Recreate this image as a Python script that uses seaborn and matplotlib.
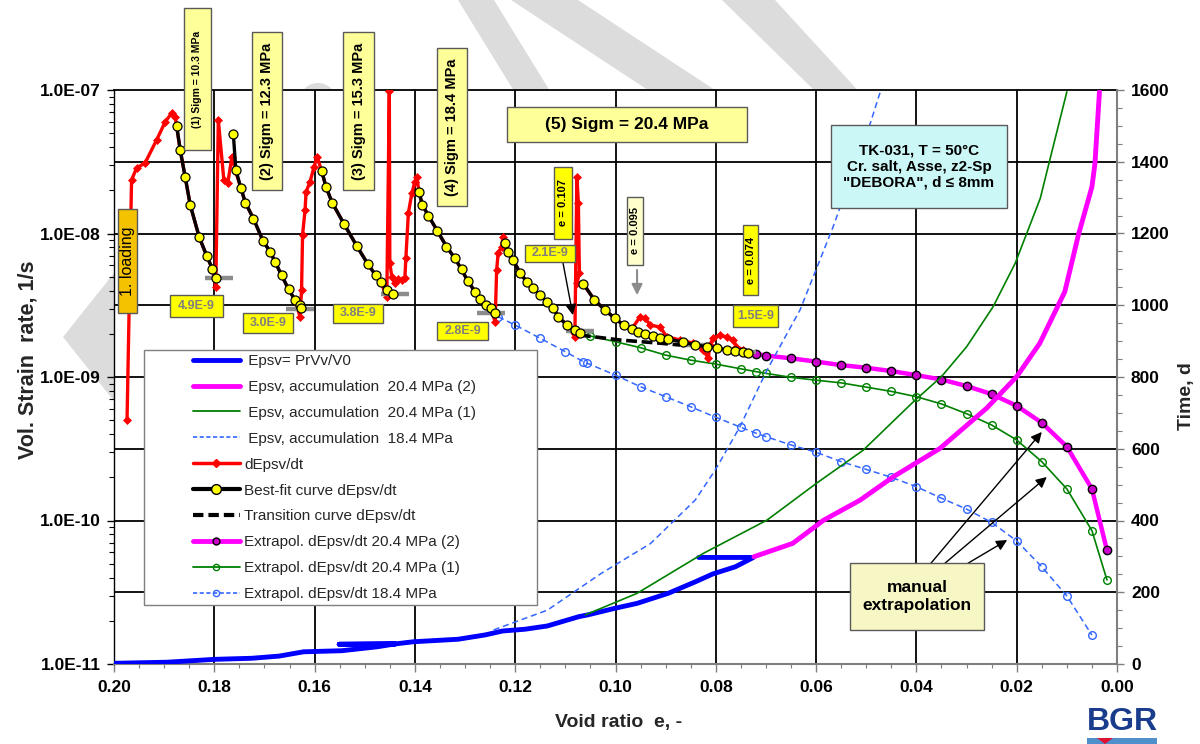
import numpy as np
import pandas as pd
import matplotlib
matplotlib.use("Agg")
import matplotlib.pyplot as plt
import seaborn as sns
from matplotlib.patches import Rectangle, Polygon, Ellipse
from matplotlib.lines import Line2D
from matplotlib.ticker import LogLocator, MultipleLocator, FuncFormatter, NullFormatter

# ---------------- data ----------------
# measured strain rate dEpsv/dt vs void ratio
red_e = [0.1974, 0.1965, 0.1955, 0.1938, 0.1915, 0.1898, 0.1885, 0.1878, 0.1868, 0.1858,
         0.1848, 0.1830, 0.1815, 0.1804, 0.1797, 0.1792, 0.1781, 0.1773, 0.1765, 0.1757,
         0.1747, 0.1738, 0.1722, 0.1703, 0.1688, 0.1679, 0.1666, 0.1652, 0.1639, 0.1629,
         0.1626, 0.1624, 0.1619, 0.1617, 0.1609, 0.1601, 0.1595, 0.1586, 0.1577, 0.1565,
         0.1541, 0.1516, 0.1494, 0.1478, 0.1468, 0.1456, 0.1451, 0.1450, 0.1446, 0.1440,
         0.1433, 0.1426, 0.1420, 0.1418, 0.1413, 0.1406, 0.1400, 0.1396, 0.1392, 0.1385,
         0.1373, 0.1355, 0.1337, 0.1320, 0.1307, 0.1295, 0.1280, 0.1270, 0.1259, 0.1249,
         0.1240, 0.1237, 0.1234, 0.1227, 0.1224, 0.1220, 0.1214, 0.1204, 0.1190, 0.1177,
         0.1164, 0.1151, 0.1137, 0.1124, 0.1114, 0.1097, 0.1081, 0.1077, 0.1074, 0.1072,
         0.1077, 0.1064, 0.1042, 0.1021, 0.1001, 0.0984, 0.0968, 0.0951, 0.0941, 0.0931,
         0.0911, 0.0898, 0.0871, 0.0845, 0.0825, 0.0815, 0.0812, 0.0805, 0.0792, 0.0778,
         0.0765, 0.0759, 0.0745, 0.0732]
red_r = [5.0e-10, 2.36e-8, 2.86e-8, 3.1e-8, 4.49e-8, 5.98e-8, 6.92e-8, 6.49e-8, 3.82e-8, 2.47e-8,
         1.58e-8, 9.4e-9, 6.97e-9, 5.69e-9, 4.24e-9, 6.18e-8, 2.36e-8, 2.26e-8, 3.41e-8, 2.69e-8,
         2.07e-8, 1.64e-8, 1.27e-8, 8.9e-9, 7.4e-9, 6.36e-9, 5.14e-9, 4.09e-9, 3.44e-9, 2.63e-9,
         4.04e-9, 9.8e-9, 1.46e-8, 1.95e-8, 2.30e-8, 2.92e-8, 3.43e-8, 2.73e-8, 2.10e-8, 1.64e-8,
         1.16e-8, 8.2e-9, 6.13e-9, 5.11e-9, 4.59e-9, 3.63e-9, 9.9e-8, 6.19e-9, 5.0e-9, 4.52e-9,
         4.8e-9, 4.74e-9, 4.9e-9, 6.75e-9, 1.39e-8, 1.91e-8, 2.30e-8, 2.49e-8, 1.95e-8, 1.58e-8,
         1.33e-8, 1.04e-8, 8.1e-9, 6.7e-9, 5.62e-9, 4.69e-9, 3.93e-9, 3.48e-9, 3.17e-9, 3.03e-9,
         2.43e-9, 5.57e-9, 7.28e-9, 8.1e-9, 9.5e-9, 8.55e-9, 7.47e-9, 6.53e-9, 5.28e-9, 4.62e-9,
         4.15e-9, 3.73e-9, 3.35e-9, 3.01e-9, 2.63e-9, 2.30e-9, 1.91e-9, 2.49e-8, 1.62e-8, 5.28e-9,
         4.50e-9, 4.45e-9, 3.44e-9, 2.93e-9, 2.56e-9, 2.30e-9, 2.15e-9, 2.63e-9, 2.58e-9, 2.30e-9,
         2.23e-9, 1.91e-9, 1.81e-9, 1.72e-9, 1.54e-9, 1.35e-9, 1.67e-9, 1.86e-9, 1.96e-9, 1.90e-9,
         1.81e-9, 1.63e-9, 1.54e-9, 1.47e-9]

# best-fit curves (one segment per load stage)
fit_e = [0.1875, 0.1868, 0.1858, 0.1848, 0.1830, 0.1815, 0.1804, 0.1797,
         0.1762, 0.1757, 0.1747, 0.1738, 0.1722, 0.1703, 0.1688, 0.1679, 0.1666, 0.1652, 0.1639, 0.1630, 0.1627,
         0.1586, 0.1577, 0.1565, 0.1541, 0.1516, 0.1494, 0.1478, 0.1468, 0.1456, 0.1444,
         0.1392, 0.1385, 0.1373, 0.1355, 0.1337, 0.1320, 0.1307, 0.1295, 0.1280, 0.1270, 0.1259, 0.1249, 0.1240,
         0.1220, 0.1214, 0.1204, 0.1190, 0.1177, 0.1164, 0.1151, 0.1137, 0.1124, 0.1114, 0.1097, 0.1081, 0.1071,
         0.1064, 0.1042, 0.1021, 0.1001, 0.0984, 0.0968, 0.0956, 0.0941, 0.0926, 0.0911, 0.0895, 0.0865,
         0.0841, 0.0818, 0.0798, 0.0778, 0.0761, 0.0745, 0.0735]
fit_r = [5.61e-8, 3.82e-8, 2.47e-8, 1.58e-8, 9.42e-9, 6.97e-9, 5.69e-9, 4.88e-9,
         4.91e-8, 2.77e-8, 2.07e-8, 1.64e-8, 1.27e-8, 8.9e-9, 7.4e-9, 6.36e-9, 5.14e-9, 4.09e-9, 3.44e-9, 3.18e-9, 3.01e-9,
         2.73e-8, 2.10e-8, 1.64e-8, 1.16e-8, 8.2e-9, 6.13e-9, 5.11e-9, 4.59e-9, 4.04e-9, 3.77e-9,
         1.95e-8, 1.58e-8, 1.33e-8, 1.04e-8, 8.1e-9, 6.7e-9, 5.62e-9, 4.69e-9, 3.93e-9, 3.48e-9, 3.17e-9, 3.03e-9, 2.78e-9,
         8.55e-9, 7.47e-9, 6.53e-9, 5.28e-9, 4.62e-9, 4.15e-9, 3.73e-9, 3.35e-9, 3.01e-9, 2.63e-9, 2.30e-9, 2.13e-9, 2.04e-9,
         4.45e-9, 3.44e-9, 2.93e-9, 2.56e-9, 2.30e-9, 2.15e-9, 2.07e-9, 2.00e-9, 1.93e-9, 1.88e-9, 1.83e-9, 1.75e-9,
         1.67e-9, 1.63e-9, 1.60e-9, 1.54e-9, 1.52e-9, 1.50e-9, 1.48e-9]
fit_counts = [8, 13, 10, 13, 13, 19]

trans_e = [0.1071, 0.0991, 0.0911, 0.0871]
trans_r = [1.96e-9, 1.81e-9, 1.72e-9, 1.67e-9]

# end-of-stage rates (grey marks) and their labels
bar_e = [0.1790, 0.1630, 0.1440, 0.1249, 0.1071, 0.0839, 0.0747]
bar_r = [4.9e-9, 3.0e-9, 3.8e-9, 2.8e-9, 2.1e-9, 1.67e-9, 1.5e-9]
bar_labels = ["4.9E-9", "3.0E-9", "3.8E-9", "2.8E-9", "2.1E-9", "1.5E-9"]

# extrapolated rates
mag_e = [0.072, 0.070, 0.065, 0.060, 0.055, 0.050, 0.045, 0.040, 0.035, 0.030, 0.025, 0.020,
         0.015, 0.010, 0.005, 0.002]
mag_r = [1.45e-9, 1.41e-9, 1.35e-9, 1.28e-9, 1.21e-9, 1.16e-9, 1.10e-9, 1.03e-9, 9.6e-10, 8.65e-10,
         7.6e-10, 6.3e-10, 4.8e-10, 3.27e-10, 1.66e-10, 6.2e-11]
grn_e = [0.107, 0.105, 0.100, 0.095, 0.090, 0.085, 0.080, 0.075, 0.072, 0.070, 0.065, 0.060,
         0.055, 0.050, 0.045, 0.040, 0.035, 0.030, 0.025, 0.020, 0.015, 0.010, 0.005, 0.002]
grn_r = [2.02e-9, 1.93e-9, 1.76e-9, 1.60e-9, 1.42e-9, 1.31e-9, 1.23e-9, 1.14e-9, 1.09e-9, 1.06e-9,
         9.95e-10, 9.5e-10, 9.1e-10, 8.5e-10, 7.94e-10, 7.29e-10, 6.49e-10, 5.55e-10, 4.63e-10,
         3.64e-10, 2.57e-10, 1.66e-10, 8.5e-11, 3.85e-11]
blu_e = [0.1234, 0.120, 0.115, 0.110, 0.1064, 0.1057, 0.100, 0.095, 0.090, 0.085, 0.080, 0.075,
         0.072, 0.070, 0.065, 0.060, 0.055, 0.050, 0.045, 0.040, 0.035, 0.030, 0.025, 0.020,
         0.015, 0.010, 0.005]
blu_r = [2.63e-9, 2.30e-9, 1.86e-9, 1.50e-9, 1.28e-9, 1.25e-9, 1.03e-9, 8.55e-10, 7.29e-10, 6.2e-10,
         5.24e-10, 4.46e-10, 4.06e-10, 3.84e-10, 3.36e-10, 2.99e-10, 2.57e-10, 2.27e-10, 2.0e-10,
         1.72e-10, 1.43e-10, 1.20e-10, 9.7e-11, 7.2e-11, 4.76e-11, 2.98e-11, 1.59e-11]

# time (right axis) curves
bt_e = [0.1998, 0.1894, 0.1799, 0.1725, 0.1671, 0.1622, 0.1546, 0.1475, 0.1439, 0.1551, 0.1439,
        0.1403, 0.1314, 0.1260, 0.1225, 0.1180, 0.1136, 0.1073, 0.1055, 0.1002, 0.0957, 0.0895,
        0.0841, 0.0806, 0.0761, 0.0725, 0.0834]
bt_t = [2, 5, 13, 16, 22, 34, 37, 48, 56, 55, 56, 62, 69, 81, 92, 97, 106, 132, 137, 155, 169,
        197, 229, 251, 271, 297, 297]
mt_e = [0.0724, 0.0647, 0.0600, 0.0586, 0.0512, 0.0446, 0.0353, 0.0260, 0.0200, 0.0154, 0.0104,
        0.0077, 0.0050, 0.0044, 0.0035]
mt_t = [299, 336, 385, 400, 457, 522, 601, 713, 801, 894, 1038, 1196, 1330, 1395, 1595]
gt_e = [0.1060, 0.0957, 0.0824, 0.0698, 0.0599, 0.0506, 0.0406, 0.0350, 0.0300, 0.0247, 0.0203,
        0.0153, 0.0134, 0.0100]
gt_t = [137, 197, 309, 401, 504, 596, 731, 801, 884, 996, 1117, 1298, 1405, 1595]
bdt_e = [0.1243, 0.1136, 0.1028, 0.0930, 0.0841, 0.0801, 0.0752, 0.0698, 0.0632, 0.0566, 0.0492, 0.0472]
bdt_t = [95, 150, 253, 336, 457, 541, 661, 819, 987, 1219, 1507, 1595]

legend_labels = [" Epsv= PrVv/V0", " Epsv, accumulation  20.4 MPa (2)",
                 " Epsv, accumulation  20.4 MPa (1)", " Epsv, accumulation  18.4 MPa",
                 "dEpsv/dt", "Best-fit curve dEpsv/dt", "Transition curve dEpsv/dt",
                 "Extrapol. dEpsv/dt 20.4 MPa (2)", "Extrapol. dEpsv/dt 20.4 MPa (1)",
                 "Extrapol. dEpsv/dt 18.4 MPa"]
stage_labels = ["(1) Sigm = 10.3 MPa", "(2) Sigm = 12.3 MPa", "(3) Sigm = 15.3 MPa",
                "(4) Sigm = 18.4 MPa", "(5) Sigm = 20.4 MPa"]
e_labels = ["e = 0.107", "e = 0.095", "e = 0.074"]
info_text = 'TK-031, T = 50°C\nCr. salt, Asse, z2-Sp\n"DEBORA", d \u2264 8mm'

# ---------------- style ----------------
sns.set_theme(style="ticks")
plt.rcParams["font.family"] = ["Liberation Sans", "DejaVu Sans"]
plt.rcParams["font.weight"] = "bold"
plt.rcParams["axes.unicode_minus"] = False

W, H = 1200, 744
fig = plt.figure(figsize=(W / 100, H / 100), dpi=100)
fig.patch.set_facecolor("white")


def P(x, y):
    return (x / W, 1 - y / H)


# faint watermark shapes in the margins
wm = "#DCDCDC"
for pts in [[(458, 0), (494, 0), (553, 96), (517, 96)],
            [(511, 0), (578, 0), (724, 96), (657, 96)],
            [(722, 0), (775, 0), (863, 96), (820, 96)],
            [(63, 337), (118, 268), (118, 406)]]:
    fig.add_artist(Polygon([P(*p) for p in pts], closed=True, transform=fig.transFigure,
                           fc=wm, ec="none", zorder=-1))
fig.add_artist(Ellipse(P(318, 98), 34 / W, 30 / H, transform=fig.transFigure, fc=wm, ec="none", zorder=-1))

ax = fig.add_axes([114 / W, 80 / H, 1003 / W, 574 / H])
ax.set_yscale("log")
ax2 = ax.twinx()
ax.set_zorder(1)
ax2.set_zorder(2)
ax.patch.set_facecolor("white")
ax.patch.set_visible(True)
ax2.patch.set_visible(False)

# ---------------- rate curves (left axis) ----------------
red_df = pd.DataFrame({"e": red_e, "rate": red_r})
sns.lineplot(data=red_df, x="e", y="rate", ax=ax, sort=False, estimator=None, color="#FF0000",
             lw=2.4, marker="D", markersize=4.2, markeredgecolor="#FF0000", markeredgewidth=0.5,
             legend=False, zorder=4)

fit_df = pd.DataFrame({"e": fit_e, "rate": fit_r,
                       "stage": np.repeat(np.arange(1, len(fit_counts) + 1), fit_counts)})
sns.lineplot(data=fit_df, x="e", y="rate", units="stage", estimator=None, sort=False, ax=ax,
             color="black", lw=2.4, marker="o", markersize=6.5, markerfacecolor="#FFFF00",
             markeredgecolor="black", markeredgewidth=0.9, legend=False, zorder=6)

sns.lineplot(x=trans_e, y=trans_r, ax=ax, sort=False, estimator=None, color="black", lw=2.6,
             linestyle=(0, (3, 1.3)), legend=False, zorder=5)

ax.hlines(bar_r, [e + 0.0028 for e in bar_e], [e - 0.0028 for e in bar_e],
          colors="#8C8C8C", lw=3.2, zorder=5.5)

sns.lineplot(x=mag_e, y=mag_r, ax=ax, sort=False, estimator=None, color="#FF00FF", lw=3.2,
             marker="o", markersize=6, markerfacecolor="#CC00CC", markeredgecolor="black",
             markeredgewidth=1, legend=False, zorder=3)
sns.lineplot(x=grn_e, y=grn_r, ax=ax, sort=False, estimator=None, color="#008000", lw=1.2,
             marker="o", markersize=5.5, markerfacecolor="none", markeredgecolor="#008000",
             markeredgewidth=1, legend=False, zorder=3)
sns.lineplot(x=blu_e, y=blu_r, ax=ax, sort=False, estimator=None, color="#3366FF", lw=1.1,
             linestyle=(0, (4, 2.5)), marker="o", markersize=5.5, markerfacecolor="none",
             markeredgecolor="#3366FF", markeredgewidth=1, legend=False, zorder=3)

# ---------------- time curves (right axis) ----------------
sns.lineplot(x=bt_e, y=bt_t, ax=ax2, sort=False, estimator=None, color="#0000FF", lw=3.5, legend=False)
sns.lineplot(x=mt_e, y=mt_t, ax=ax2, sort=False, estimator=None, color="#FF00FF", lw=3.5, legend=False)
sns.lineplot(x=gt_e, y=gt_t, ax=ax2, sort=False, estimator=None, color="#008000", lw=1.2, legend=False)
sns.lineplot(x=bdt_e, y=bdt_t, ax=ax2, sort=False, estimator=None, color="#3366FF", lw=1.1,
             linestyle=(0, (4, 2.5)), legend=False)

# ---------------- axes ----------------
ylo, yhi = 1e-11, 1e-7
tlo, thi = 0, 1600
ax.set_xlim(0.2, 0.0)
ax.set_ylim(ylo, yhi)
ax2.set_ylim(tlo, thi)
ax.set_xlabel("")
ax.set_ylabel("")
ax2.set_xlabel("")
ax2.set_ylabel("")

ax.xaxis.set_major_locator(MultipleLocator(0.02))
ax.xaxis.set_minor_locator(MultipleLocator(0.005))
ax.xaxis.set_major_formatter(FuncFormatter(lambda v, p: f"{abs(v):.2f}"))
ax.yaxis.set_major_locator(LogLocator(base=10, numticks=10))
ax.yaxis.set_minor_locator(LogLocator(base=10, subs=np.arange(2, 10), numticks=20))
ax.yaxis.set_major_formatter(FuncFormatter(lambda v, p: f"{v:.1E}"))
ax.yaxis.set_minor_formatter(NullFormatter())
ax2.yaxis.set_major_locator(MultipleLocator(200))
ax2.yaxis.set_minor_locator(MultipleLocator(50))
ax2.yaxis.set_major_formatter(FuncFormatter(lambda v, p: f"{v:.0f}"))

ax.grid(False)
ax2.grid(False)
ax.set_axisbelow(True)
ax.xaxis.grid(True, which="major", color="black", lw=1.3)
for t in ax2.yaxis.get_majorticklocs():
    if tlo < t < thi:
        ax.axhline(ylo * (yhi / ylo) ** ((t - tlo) / (thi - tlo)), color="black", lw=1.3, zorder=0.5)

ax.tick_params(axis="y", which="major", direction="out", length=5, width=1, color="black",
               labelcolor="black", labelsize=12.5, pad=4.5, left=True, right=False)
ax.tick_params(axis="y", which="minor", direction="out", length=3.5, width=0.8, color="black",
               left=True, right=False)
ax.tick_params(axis="x", which="major", direction="out", length=6, width=1, color="#7F7F7F",
               labelcolor="black", labelsize=12.5, pad=5.5, bottom=True, top=False)
ax.tick_params(axis="x", which="minor", direction="out", length=3, width=0.8, color="#7F7F7F",
               bottom=True, top=False)
ax2.tick_params(axis="y", which="major", direction="out", length=5, width=1, color="#7F7F7F",
                labelcolor="black", labelsize=12.5, pad=5, right=True, left=False)
ax2.tick_params(axis="y", which="minor", direction="out", length=3.5, width=0.8, color="#7F7F7F",
                right=True, left=False)

ax.spines["right"].set_visible(False)
ax.spines["top"].set_color("black")
ax.spines["top"].set_linewidth(1.3)
ax.spines["left"].set_color("black")
ax.spines["left"].set_linewidth(1.0)
ax.spines["bottom"].set_color("#7F7F7F")
ax.spines["bottom"].set_linewidth(1.5)
for s in ["left", "top", "bottom"]:
    ax2.spines[s].set_visible(False)
ax2.spines["right"].set_color("#7F7F7F")
ax2.spines["right"].set_linewidth(1.5)

# ---------------- legend ----------------
handles = [
    Line2D([], [], color="#0000FF", lw=3.5),
    Line2D([], [], color="#FF00FF", lw=3.5),
    Line2D([], [], color="#008000", lw=1.3),
    Line2D([], [], color="#3366FF", lw=1.2, ls=(0, (2.5, 1.5))),
    Line2D([], [], color="#FF0000", lw=2.5, marker="D", ms=4.5, mec="#FF0000"),
    Line2D([], [], color="black", lw=3, marker="o", ms=7, mfc="#FFFF00", mec="black"),
    Line2D([], [], color="black", lw=3, ls=(0, (2.5, 1.2))),
    Line2D([], [], color="#FF00FF", lw=3.5, marker="o", ms=5, mfc="#CC00CC", mec="black"),
    Line2D([], [], color="#008000", lw=1.3, marker="o", ms=4.5, mfc="none", mec="#008000"),
    Line2D([], [], color="#3366FF", lw=1.2, ls=(0, (2.5, 1.5)), marker="o", ms=4.5, mfc="none", mec="#3366FF"),
]
ax2.add_patch(Rectangle((30 / 1003, 59 / 574), 393 / 1003, 255 / 574, transform=ax2.transAxes,
                        fc="white", ec="#7F7F7F", lw=1.0, zorder=8))
leg = ax2.legend(handles, legend_labels, loc="upper left", bbox_to_anchor=(79 / 1003, 310 / 574),
                 frameon=False, borderpad=0, borderaxespad=0, handlelength=3.07, handletextpad=0.3,
                 labelspacing=0.78, numpoints=1, prop={"size": 11, "weight": "normal"})
leg.set_zorder(9)

# ---------------- annotation boxes ----------------
def fbox(x0, y0, x1, y1, fc, text, size, rot=0, weight="bold", tc="black", ec="#5A5A5A", ls=1.2):
    fig.add_artist(Rectangle(P(x0, y1), (x1 - x0) / W, (y1 - y0) / H, transform=fig.transFigure,
                             facecolor=fc, edgecolor=ec, lw=1.0, zorder=20))
    fig.text((x0 + x1) / 2 / W, 1 - (y0 + y1) / 2 / H, text, rotation=rot, ha="center", va="center",
             fontsize=size, fontweight=weight, color=tc, zorder=21, linespacing=ls)


fbox(184, 8, 211, 150, "#FFFF99", stage_labels[0], 7.5, rot=90)
fbox(252, 32, 282, 190, "#FFFF99", stage_labels[1], 10.5, rot=90)
fbox(343, 32, 374, 190, "#FFFF99", stage_labels[2], 10.5, rot=90)
fbox(437, 48, 467, 206, "#FFFF99", stage_labels[3], 10.5, rot=90)
fbox(507, 107, 747, 142, "#FFFF99", stage_labels[4], 12.5)
fbox(118, 209, 137, 313, "#F5C200", "1. loading", 11.5, rot=90, weight="normal")
fbox(554, 167, 572, 239, "#FFFF00", e_labels[0], 8, rot=90)
fbox(627, 197, 643, 265, "#FFFFCC", e_labels[1], 8, rot=90)
fbox(743, 225, 758, 295, "#FFFF00", e_labels[2], 8, rot=90)
for (x0, y0, x1, y1), lab in zip([(170, 295, 223, 317), (243, 313, 293, 333), (333, 304, 383, 323),
                                  (437, 322, 488, 340), (525, 245, 575, 262), (733, 305, 778, 327)],
                                 bar_labels):
    fbox(x0, y0, x1, y1, "#FFFF00", lab, 9, tc="#7F7F7F")
fbox(831, 125, 1007, 208, "#CCF7F7", info_text, 11)
fbox(850, 563, 984, 630, "#F7F7C6", "manual\nextrapolation", 12.5)

# arrows
for (te, tr, he, hr) in [(0.0371, 5.04e-11, 0.0150, 4.14e-10), (0.0343, 5.04e-11, 0.0140, 2.01e-10),
                         (0.0297, 5.04e-11, 0.0219, 7.31e-11), (0.1105, 6.32e-9, 0.1085, 2.70e-9)]:
    ax.annotate("", xy=(he, hr), xytext=(te, tr),
                arrowprops=dict(arrowstyle="-|>", color="black", lw=1.0, mutation_scale=16,
                                shrinkA=0, shrinkB=0), zorder=10)
ax.annotate("", xy=(0.0957, 3.72e-9), xytext=(0.0957, 5.57e-9),
            arrowprops=dict(arrowstyle="-|>", color="#8C8C8C", lw=1.5, mutation_scale=16,
                            shrinkA=0, shrinkB=0), zorder=10)

# ---------------- axis titles ----------------
fig.text(28 / W, 1 - 360 / H, "Vol. Strain  rate, 1/s", rotation=90, ha="center", va="center",
         fontsize=15.5, fontweight="bold")
fig.text(619 / W, 1 - 722 / H, "Void ratio  e, -", ha="center", va="center",
         fontsize=14, fontweight="bold")
fig.text(1187 / W, 1 - 396 / H, "Time, d", rotation=90, ha="center", va="center",
         fontsize=14, fontweight="bold")

# BGR logo
fig.text(1122 / W, 1 - 722 / H, "BGR", ha="center", va="center", fontsize=23,
         fontweight="bold", color="#1A3C8C")
fig.add_artist(Rectangle(P(1087, 744), 70 / W, 6 / H, transform=fig.transFigure,
                         fc="#4F8FCB", ec="none", zorder=5))
fig.add_artist(Polygon([P(1097, 738), P(1113, 738), P(1105, 744)], closed=True,
                       transform=fig.transFigure, fc="#E0102F", ec="none", zorder=6))

fig.savefig("out.png", dpi=100, facecolor="white")
